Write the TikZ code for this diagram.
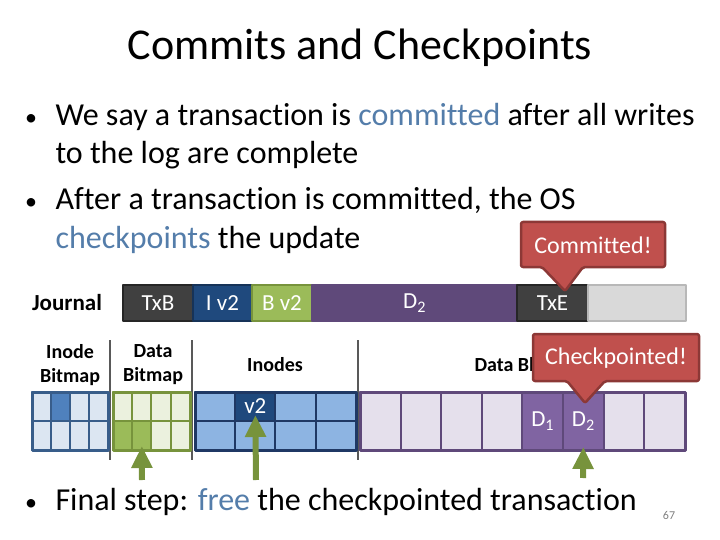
\documentclass[tikz,border=0pt]{standalone}
\usepackage{fontspec}
\setmainfont{Carlito}[Ligatures=NoCommon]
\usetikzlibrary{arrows.meta,positioning}

\definecolor{accent}{RGB}{84,125,170}
\definecolor{txgray}{RGB}{64,64,64}
\definecolor{inavy}{RGB}{31,73,125}
\definecolor{bgreen}{RGB}{155,187,89}
\definecolor{dpurple}{RGB}{95,73,122}
\definecolor{egray}{RGB}{217,217,217}
\definecolor{iblight}{RGB}{220,230,242}
\definecolor{ibdark}{RGB}{79,129,189}
\definecolor{ibline}{RGB}{56,93,138}
\definecolor{dblight}{RGB}{235,241,222}
\definecolor{dbline}{RGB}{119,147,60}
\definecolor{inlight}{RGB}{141,180,226}
\definecolor{inline}{RGB}{31,56,100}
\definecolor{dalight}{RGB}{229,224,236}
\definecolor{dadark}{RGB}{128,100,162}
\definecolor{calfill}{RGB}{192,80,77}
\definecolor{calline}{RGB}{140,56,54}
\definecolor{sepgray}{RGB}{89,89,89}

\newcommand{\bigtext}{\fontsize{32}{36}\selectfont}
\newcommand{\celltext}{\fontsize{23}{26}\selectfont}

\tikzset{
  jbox/.style={draw, line width=1.5pt, text=white, minimum height=36pt,
    inner sep=0pt, outer sep=0pt, font=\celltext},
  cell/.style={draw, line width=2pt, inner sep=0pt, outer sep=0pt,
    minimum width=#1, minimum height=29pt},
  lbl/.style={font=\bfseries\fontsize{20}{24}\selectfont, align=center},
  callout/.style={fill=calfill, draw=calline, line width=2.5pt, rounded corners=2pt},
  caltext/.style={text=white, font=\fontsize{24}{26}\selectfont},
  dotmark/.style={anchor=base, font=\fontsize{24}{26}\selectfont},
  uparrow/.style={draw=dbline, line width=6pt,
    -{Triangle[width=20pt,length=22pt]}},
  sep/.style={draw=sepgray, line width=2.5pt}
}

\begin{document}
\begin{tikzpicture}[x=1pt, y=-1pt, line join=round]
\useasboundingbox (0,0) rectangle (720,540);

% Titolo e testo
\node[font=\fontsize{44}{48}\selectfont] (title) at (360,48) {Commits and Checkpoints};

\node[dotmark] (dot1) at (31,126) {•};
\node[anchor=base west, font=\bigtext] (t1) at (52,126)
  {We say a transaction is \textcolor{accent}{committed} after all writes};
\node[anchor=base west, font=\bigtext] (t1b) at (52,164) {to the log are complete};
\node[dotmark] (dot2) at (31,210) {•};
\node[anchor=base west, font=\bigtext] (t2) at (52,210)
  {After a transaction is committed, the OS};
\node[anchor=base west, font=\bigtext] (t2b) at (52,248)
  {\textcolor{accent}{checkpoints} the update};

% Journal
\node[font=\bfseries\fontsize{23}{26}\selectfont] (journal) at (67,303) {Journal};
\node[jbox, fill=txgray, draw=txgray!60!black, minimum width=70pt] (txb) at (158,303) {TxB};
\node[jbox, fill=inavy, draw=inavy!70!black, minimum width=59pt, right=0pt of txb] (iv2) {I v2};
\node[jbox, fill=bgreen, draw=dbline, minimum width=60pt, right=0pt of iv2] (bv2) {B v2};
\node[jbox, fill=dpurple, draw=dpurple, minimum width=205pt, right=0pt of bv2] (jd2) {D\textsubscript{2}};
\node[jbox, fill=txgray, draw=txgray!60!black, minimum width=71pt, right=0pt of jd2] (txe) {TxE};
\node[jbox, fill=egray, draw=egray!85!black, minimum width=98pt, right=0pt of txe] (jfree) {};

% Etichette del disco
\node[lbl] (iblbl) at (70,365) {Inode\\Bitmap};
\node[lbl] (dblbl) at (153,365) {Data\\Bitmap};
\node[lbl] (inlbl) at (275,365) {Inodes};
\node[lbl, anchor=west] (dalbl) at (471,365) {Data Blocks};

% Separatori
\draw[sep] (110,340) -- (110,460);
\draw[sep] (192,340) -- (192,460);
\draw[sep] (358,340) -- (358,460);

% Inode bitmap
\foreach \i in {0,...,3}
  \foreach \j in {0,1}
    \node[cell=19pt, fill=iblight, draw=ibline] (ib\i\j) at (41.5+\i*19, 406.5+\j*29) {};
\node[cell=19pt, fill=ibdark, draw=ibline] at (ib10) {};
\draw[ibline, line width=3pt] (32,392) rectangle (108,450);

% Data bitmap
\foreach \i in {0,...,3}
  \foreach \j in {0,1}
    \node[cell=19.25pt, fill=dblight, draw=dbline] (db\i\j) at (122.6+\i*19.25, 406.5+\j*29) {};
\node[cell=19.25pt, fill=bgreen, draw=dbline] at (db01) {};
\node[cell=19.25pt, fill=bgreen, draw=dbline] at (db11) {};
\draw[dbline, line width=3pt] (113,392) rectangle (190,450);

% Inodes
\foreach \i in {0,...,3}
  \foreach \j in {0,1}
    \node[cell=40.25pt, fill=inlight, draw=inline] (in\i\j) at (215.1+\i*40.25, 406.5+\j*29) {};
\node[cell=40.25pt, fill=inavy, draw=inline, text=white, font=\celltext] at (in10) {v2};
\draw[inline, line width=3pt] (195,392) rectangle (356,450);

% Data blocks
\foreach \i in {0,...,7}
  \node[cell=40.6pt, minimum height=58pt, fill=dalight, draw=dpurple] (da\i) at (380.3+\i*40.6, 421) {};
\node[cell=40.6pt, minimum height=58pt, fill=dadark, draw=dpurple, text=white,
  font=\celltext] at (da4) {D\textsubscript{1}};
\node[cell=40.6pt, minimum height=58pt, fill=dadark, draw=dpurple, text=white,
  font=\celltext] at (da5) {D\textsubscript{2}};
\draw[dpurple, line width=3pt] (360,392) rectangle (685,450);

% Callout
\draw[callout] (521,222) -- (665,222) -- (665,267) -- (583,267) -- (565,291)
  -- (542,267) -- (521,267) -- cycle;
\node[caltext] (committed) at (593,245) {Committed!};
\draw[callout] (533,334) -- (699,334) -- (699,381) -- (605,381) -- (585,403)
  -- (567,381) -- (533,381) -- cycle;
\node[caltext] (checkpointed) at (616,358) {Checkpointed!};

% Frecce verdi
\coordinate (a1) at (142,480);
\coordinate (a2) at (256,480);
\coordinate (a3) at (583,478);
\draw[uparrow] (a1) -- ([yshift=4pt]db11.south);
\draw[uparrow] (a2) -- ([yshift=6pt]in10.south);
\draw[uparrow] (a3) -- ([yshift=3pt]da5.south);

% Ultimo punto
\node[dotmark] (dot3) at (31,510) {•};
\node[anchor=base west, font=\bigtext] (t3) at (52,510)
  {Final step: \textcolor{accent}{free} the checkpointed transaction};
\node[text=gray, font=\fontsize{12}{14}\selectfont] (page) at (669,515) {67};

\end{tikzpicture}
\end{document}
